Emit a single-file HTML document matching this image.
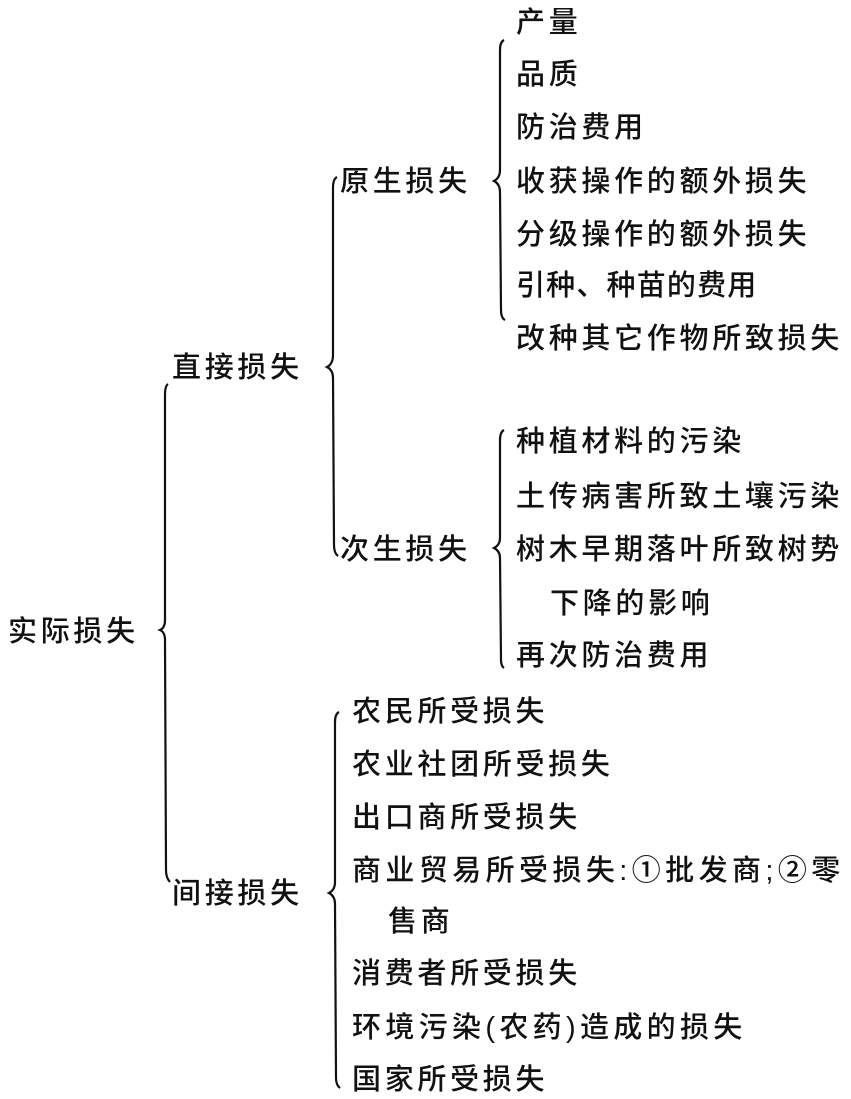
<!DOCTYPE html>
<html><head><meta charset="utf-8"><style>
html,body{margin:0;padding:0;background:#fff;}
svg{display:block}
text{font-family:"Liberation Sans","Noto Sans CJK SC",sans-serif;font-size:29px;letter-spacing:3.7px;fill:#111;font-weight:500}
path{fill:none;stroke:#111;stroke-width:2.2}
</style></head><body>
<svg width="851" height="1099" viewBox="0 0 851 1099">
<path d="M168 384 Q165 386 165 395 L165 620 Q165 628 160 630 Q165 632 165 640 L166 870 Q166 878 170 882"/>
<path d="M337 177 Q333 179 333 188 L333 355 Q333 364 327 367 Q333 370 333 378 L334 545 Q334 553 338 556"/>
<path d="M504 40 Q500 42 500 50 L500 170 Q500 178 494 181 Q500 184 500 192 L501 310 Q501 318 505 320"/>
<path d="M504 430 Q500 432 500 440 L500 538 Q500 545 494 548 Q500 551 500 558 L501 660 Q501 666 504 668"/>
<path d="M339 712 Q335 714 335 722 L335 882 Q335 890 329 893 Q335 896 335 904 L336 1078 Q336 1085 340 1088"/>
<text x="8" y="641">实际损失</text>
<text x="172" y="377">直接损失</text>
<text x="172" y="903">间接损失</text>
<text x="340" y="191">原生损失</text>
<text x="340" y="559">次生损失</text>
<text x="516" y="32">产量</text>
<text x="516" y="84">品质</text>
<text x="516" y="137">防治费用</text>
<text x="516" y="191">收获操作的额外损失</text>
<text x="516" y="244">分级操作的额外损失</text>
<text x="516" y="295" textLength="244" lengthAdjust="spacing">引种、种苗的费用</text>
<text x="516" y="348">改种其它作物所致损失</text>
<text x="516" y="451">种植材料的污染</text>
<text x="516" y="506">土传病害所致土壤污染</text>
<text x="516" y="559">树木早期落叶所致树势</text>
<text x="550" y="613">下降的影响</text>
<text x="516" y="665">再次防治费用</text>
<text x="352" y="721">农民所受损失</text>
<text x="352" y="774">农业社团所受损失</text>
<text x="352" y="827">出口商所受损失</text>
<text x="352" y="880" textLength="492" lengthAdjust="spacing">商业贸易所受损失:①批发商;②零</text>
<text x="388" y="931">售商</text>
<text x="352" y="983">消费者所受损失</text>
<text x="352" y="1037" textLength="394" lengthAdjust="spacing">环境污染(农药)造成的损失</text>
<text x="352" y="1089">国家所受损失</text>
</svg>
</body></html>
